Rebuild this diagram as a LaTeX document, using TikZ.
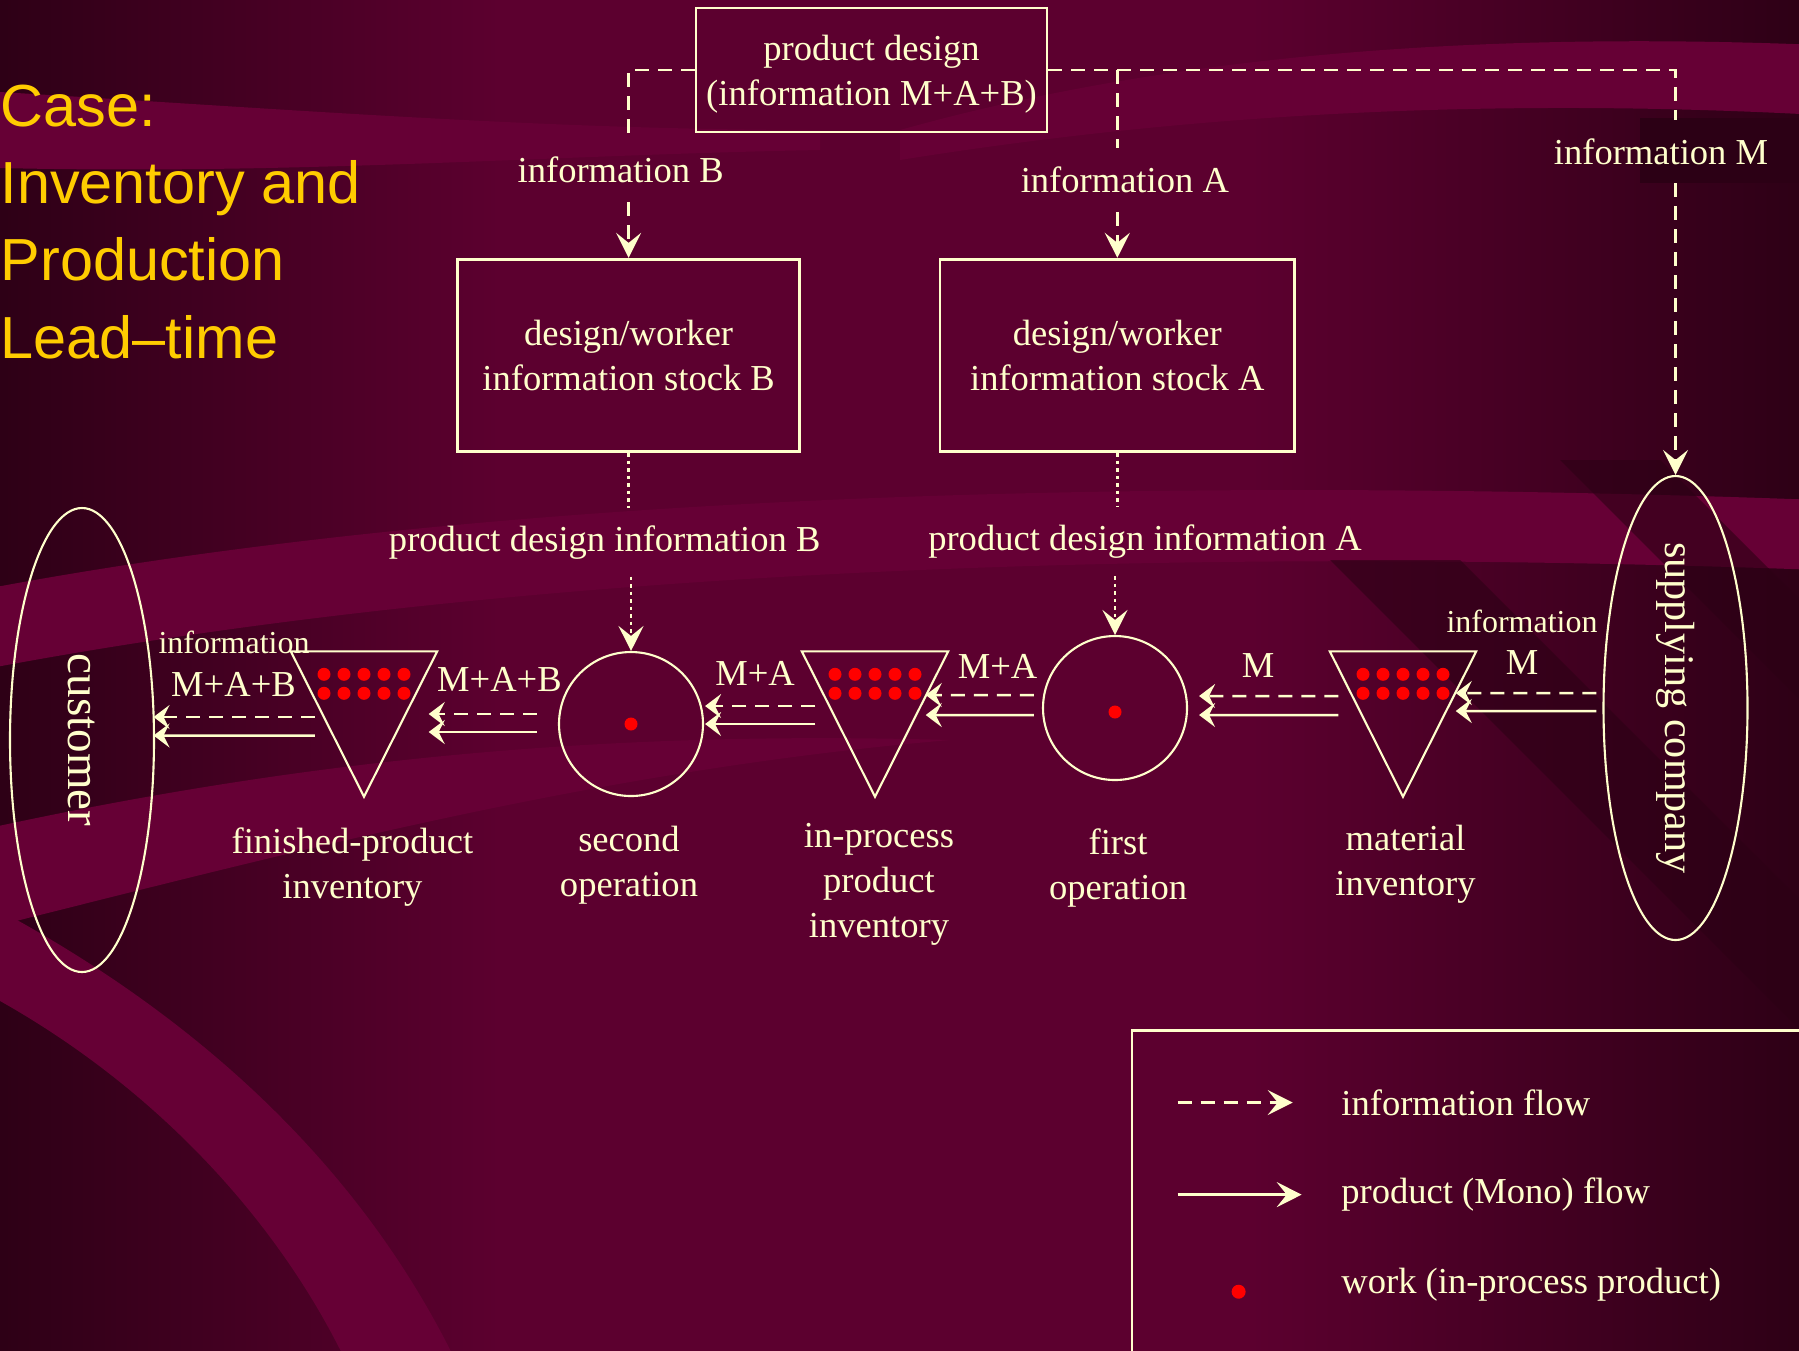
\documentclass[tikz,border=0pt]{standalone}
\usepackage{fontspec}
\setmainfont{Liberation Serif}
\newfontfamily\titlefont{Liberation Sans}
\usetikzlibrary{shapes.geometric,arrows.meta}

\definecolor{bgmid}{HTML}{5C002F}
\definecolor{bgdark}{HTML}{2C0015}
\definecolor{bglight}{HTML}{660035}
\definecolor{ink}{HTML}{FFFFCC}
\definecolor{titlecol}{HTML}{FFCC00}
\definecolor{workred}{HTML}{FF0000}

\tikzset{
  infoflow/.style={draw=ink, line width=0.7pt, dash pattern=on 1.4mm off 0.9mm},
  prodflow/.style={draw=ink, line width=0.7pt},
  dotflow/.style={draw=ink, line width=0.7pt, dash pattern=on 0.35mm off 0.4mm},
  bigtip/.style={-{Stealth[length=2.5mm,width=2.5mm,inset=1mm]}},
  smalltip/.style={-{Stealth[length=1.6mm,width=2.4mm,inset=0.6mm]}},
  party/.style={ellipse, draw=ink, line width=0.6pt, minimum width=1.44cm, minimum height=4.64cm, inner sep=0pt},
  small/.style={font=\fontsize{9.1}{11}\selectfont}
}

\begin{document}
\begin{tikzpicture}[text=ink, font=\fontsize{10.4}{12.8}\selectfont]
                    \useasboundingbox (0,0) rectangle (17.99,-13.5);
                    \fill[bgmid] (-0.2,0.2) rectangle (18.2,-13.7);
                    \fill[left color=bgdark, right color=bgmid] (-0.2,0.2) rectangle (5,-13.7);
                    \fill[left color=bgmid, right color=bgdark] (12.5,0.2) rectangle (18.2,-13.7);
                    \fill[bglight] (0,-0.92) .. controls (3,-1.1) and (5.5,-1.3) .. (8.2,-1.3) -- (8.2,-1.5) .. controls (5.5,-1.55) and (3,-1.75) .. (0,-1.68) -- cycle;
                    \fill[bglight] (9,-1.3) .. controls (11.5,-0.6) and (14.5,-0.3) .. (18.2,-0.45) -- (18.2,-1.15) .. controls (14.5,-0.95) and (11.5,-1.2) .. (9,-1.6) -- cycle;
                    \fill[bglight] (-0.2,-5.9) .. controls (4,-5.1) and (10,-4.7) .. (18.2,-5.0) -- (18.2,-5.7) .. controls (10,-5.4) and (4,-5.9) .. (-0.2,-6.7) -- cycle;
                    \fill[bglight] (-0.2,-8.3) .. controls (3,-7.6) and (6,-7.3) .. (9.5,-7.4) .. controls (6,-7.7) and (3,-8.5) .. (-0.2,-9.3) -- cycle;
                    \fill[bglight] (-0.2,-9.9) .. controls (1.5,-10.8) and (2.8,-12.2) .. (3.5,-13.7) -- (4.6,-13.7) .. controls (3.7,-11.8) and (2.1,-10.2) .. (-0.2,-9.0) -- cycle;
                    \fill[bgdark, opacity=0.6] (13.3,-5.6) -- (14.6,-5.6) -- (18.2,-9.2) -- (18.2,-10.5) -- cycle;
                    \fill[bgdark, opacity=0.6] (15.6,-4.6) -- (16.6,-4.6) -- (18.2,-6.2) -- (18.2,-7.2) -- cycle;
                    \fill[bgdark] (16.4,-1.18) rectangle (18.2,-1.83);

                    \node[font=\titlefont\fontsize{16.9}{22}\selectfont, text=titlecol, align=left, anchor=north west, inner sep=0pt] (title) at (0,-0.84) {Case:\\Inventory and\\Production\\Lead–time};

                    \begin{scope}[every node/.style={draw=ink, line width=0.8pt, align=center, inner sep=0pt, minimum height=1.925cm}]
                        \node (pd) at (8.715,-0.70) [minimum width=3.51cm, minimum height=1.24cm] {\rule{0pt}{3.4mm}product design\\(information M+A+B)};
                        \node (stockB) at (6.286,-3.555) [minimum width=3.42cm] {design/worker\\information stock B};
                        \node (stockA) at (11.173,-3.555) [minimum width=3.545cm] {design/worker\\information stock A};
                    \end{scope}
                    \begin{scope}[every node/.style={inner sep=1.8mm}]
                        \node (infoB) at (6.207,-1.702) {information B};
                        \node (infoA) at (11.248,-1.802) {information A};
                        \node (infoM) at (16.61,-1.515) {information M};
                        \node (pdiB) at (6.047,-5.422) [inner sep=1.7mm] {product design information B};
                        \node (pdiA) at (11.45,-5.415) [inner sep=1.7mm] {product design information A};
                    \end{scope}

                    \node[party, label={[rotate=-90, font=\fontsize{13.4}{16}\selectfont]center:customer}] (cust) at (0.82,-7.40) {};
                    \node[party, label={[rotate=-90, font=\fontsize{12}{14}\selectfont]center:supplying company}] (sup) at (16.755,-7.08) {};
                    \begin{scope}[every node/.style={circle, draw=ink, line width=0.6pt, minimum size=1.44cm, inner sep=0pt}]
                        \node (op2) at (6.31,-7.24) {};
                        \node (op1) at (11.15,-7.08) {};
                    \end{scope}
                    \begin{scope}[every node/.style={minimum width=1.45cm, minimum height=1.44cm, inner sep=0pt}]
                        \node (fin) at (3.64,-7.24) {};
                        \node (wip) at (8.75,-7.24) {};
                        \node (mat) at (14.03,-7.24) {};
                    \end{scope}
                    \foreach \s in {fin,wip,mat} {
                        \draw[ink, line width=0.6pt] (\s.north west) -- (\s.north east) -- (\s.south) -- cycle;
                        \foreach \i in {-2,...,2}
                            \fill[workred] ([shift={(0.2*\i,-0.23)}]\s.north) circle (0.065) ([shift={(0.2*\i,-0.42)}]\s.north) circle (0.065);
                    }
                    \fill[workred] (op2.center) circle (0.065);
                    \fill[workred] ([yshift=-0.4mm]op1.center) circle (0.065);

                    \begin{scope}[every node/.style={align=center, anchor=north, inner sep=0pt}]
                        \node (finCap) at (3.524,-8.267) {finished-product\\inventory};
                        \node (op2Cap) at (6.29,-8.25) {second\\operation};
                        \node (wipCap) at (8.79,-8.23) {in-process\\product\\inventory};
                        \node (op1Cap) at (11.18,-8.283) {first\\operation};
                        \node (matCap) at (14.055,-8.243) {material\\inventory};
                    \end{scope}

                    \node[small] (lblInfoC) at (2.34,-6.425) {information};
                    \node (lblC) at (2.335,-6.847) {M+A+B};
                    \node (lblF) at (4.994,-6.797) {M+A+B};
                    \node (lblW) at (7.55,-6.73) {M+A};
                    \node (lblO) at (9.975,-6.663) {M+A};
                    \node (lblM) at (12.58,-6.653) {M};
                    \node (lblS) at (15.22,-6.63) {M};
                    \node[small] (lblInfoS) at (15.22,-6.209) {information};

                    \draw[infoflow] (pd.west) -| (stockB.north |- infoB.north);
                    \draw[infoflow, bigtip] (stockB.north |- infoB.south) -- (stockB.north);
                    \draw[infoflow] (pd.east) -| (sup.north |- infoM.north);
                    \draw[infoflow, bigtip] (sup.north |- infoM.south) -- (sup.north);
                    \draw[infoflow] (stockA.north |- pd.east) -- (stockA.north |- infoA.north);
                    \draw[infoflow, bigtip] (stockA.north |- infoA.south) -- (stockA.north);
                    \draw[dotflow] (stockB.south) -- (stockB.south |- pdiB.north);
                    \draw[dotflow, bigtip] (op2.north |- pdiB.south) -- (op2.north);
                    \draw[dotflow] (stockA.south) -- (stockA.south |- pdiA.north);
                    \draw[dotflow, bigtip] (op1.north |- pdiA.south) -- (op1.north);

                    \draw[infoflow, smalltip] ([shift={(-0.06,0.15)}]sup.west) -- ([shift={(-0.205,0.31)}]mat.east);
                    \draw[prodflow, smalltip] ([shift={(-0.06,-0.03)}]sup.west) -- ([shift={(-0.205,0.13)}]mat.east);
                    \draw[infoflow, smalltip] ([shift={(0.085,0.28)}]mat.west) -- ([shift={(0.11,0.12)}]op1.east);
                    \draw[prodflow, smalltip] ([shift={(0.085,0.09)}]mat.west) -- ([shift={(0.11,-0.07)}]op1.east);
                    \draw[infoflow, smalltip] ([shift={(-0.08,0.13)}]op1.west) -- ([shift={(-0.225,0.29)}]wip.east);
                    \draw[prodflow, smalltip] ([shift={(-0.08,-0.07)}]op1.west) -- ([shift={(-0.225,0.09)}]wip.east);
                    \draw[infoflow, smalltip] ([shift={(0.135,0.18)}]wip.west) -- ([shift={(0.01,0.18)}]op2.east);
                    \draw[prodflow, smalltip] ([shift={(0.135,0)}]wip.west) -- ([shift={(0.01,0)}]op2.east);
                    \draw[infoflow, smalltip] ([shift={(-0.21,0.10)}]op2.west) -- ([shift={(-0.085,0.10)}]fin.east);
                    \draw[prodflow, smalltip] ([shift={(-0.21,-0.08)}]op2.west) -- ([shift={(-0.085,-0.08)}]fin.east);
                    \draw[infoflow, smalltip] ([shift={(0.24,0.07)}]fin.west) -- ([shift={(-0.015,0.23)}]cust.east);
                    \draw[prodflow, smalltip] ([shift={(0.24,-0.115)}]fin.west) -- ([shift={(-0.015,0.045)}]cust.east);

                    \draw[ink, line width=0.8pt] (11.32,-13.7) |- (18.2,-10.307);
                    \begin{scope}[every node/.style={anchor=west, inner sep=0pt}]
                        \node (legInfo) at (13.407,-11.025) {information flow};
                        \node (legProd) at (13.407,-11.946) {product (Mono) flow};
                        \node (legWork) at (13.407,-12.846) {work (in-process product)};
                    \end{scope}
                    \draw[infoflow, bigtip] ([xshift=-16.3mm]legInfo.west) -- ([xshift=-4.8mm]legInfo.west);
                    \draw[prodflow, bigtip] ([xshift=-16.3mm]legProd.west) -- ([xshift=-3.9mm]legProd.west);
                    \fill[workred] ([shift={(-1.021,-0.071)}]legWork.west) circle (0.07);
                \end{tikzpicture}
\end{document}
